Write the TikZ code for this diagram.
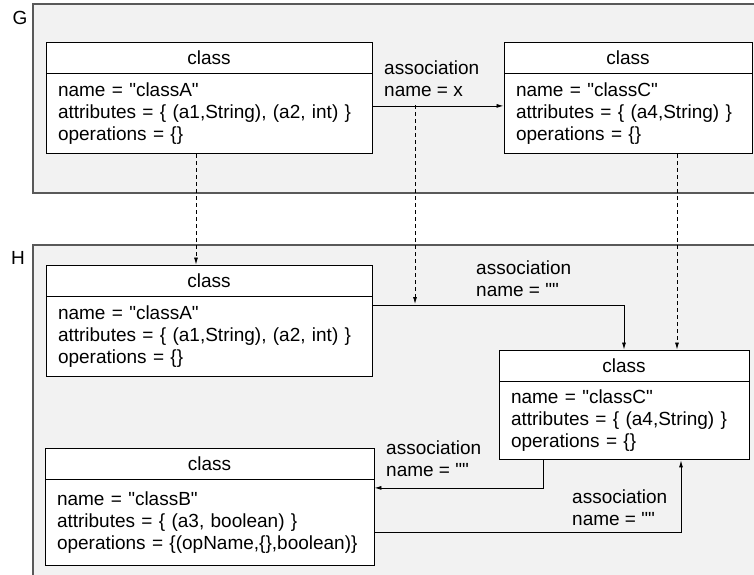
\documentclass[tikz,border=0pt]{standalone}
\usepackage{fontspec}
\setmainfont{Liberation Sans}
\usepackage{tikz}
\usetikzlibrary{arrows.meta,positioning}
\definecolor{framegray}{RGB}{242,242,242}
\newcommand{\q}{\textquotedbl}

\begin{document}
\begin{tikzpicture}[x=1pt, y=1pt,
    every node/.style={font=\fontsize{19}{22}\selectfont},
    frame/.style={draw=black!65, line width=1.1pt, fill=framegray},
    head/.style={rectangle, draw, fill=white, line width=0.9pt, minimum height=31pt, inner sep=0pt},
    body/.style={rectangle, draw, fill=white, line width=0.9pt, inner xsep=12pt, inner ysep=0pt, align=left},
    label/.style={anchor=west, align=left, inner sep=0pt},
    arrow/.style={-{Latex[length=7pt,width=4pt]}, line width=0.8pt},
    mapping/.style={arrow, dash pattern=on 4pt off 3pt}
]
    \useasboundingbox (0,0) rectangle (754,-574);

    % graph G
    \draw[frame] (33,-4) rectangle (760,-193);
    \node (labelG) at (20,-18) {G};
    \node[head, minimum width=326pt] (gA) at (209,-57.5) {class};
    \node[body, below=0pt of gA, text width=302pt, minimum height=80pt] (gAbody)
        {name = \q classA\q\\attributes = \{ (a1,String), (a2, int) \}\\operations = \{\}};
    \node[head, minimum width=248pt] (gC) at (628,-57.5) {class};
    \node[body, below=0pt of gC, text width=224pt, minimum height=80pt] (gCbody)
        {name = \q classC\q\\attributes = \{ (a4,String) \}\\operations = \{\}};
    \draw[arrow] ([yshift=8pt]gAbody.east) -- ([yshift=8pt]gCbody.west);
    \node[label] (assocG) at (384,-78.5) {association\\name = x};
    \coordinate (gmap) at (415,-105);

    % graph H
    \draw[frame] (33,-245) rectangle (760,-580);
    \node (labelH) at (18,-258) {H};
    \node[head, minimum width=326pt] (hA) at (209,-280.5) {class};
    \node[body, below=0pt of hA, text width=302pt, minimum height=80pt] (hAbody)
        {name = \q classA\q\\attributes = \{ (a1,String), (a2, int) \}\\operations = \{\}};
    \node[head, minimum width=250pt] (hC) at (624,-365.5) {class};
    \node[body, below=0pt of hC, text width=226pt, minimum height=78pt] (hCbody)
        {name = \q classC\q\\attributes = \{ (a4,String) \}\\operations = \{\}};
    \node[head, minimum width=329pt] (hB) at (209.5,-463.5) {class};
    \node[body, below=0pt of hB, text width=305pt, minimum height=86pt] (hBbody)
        {name = \q classB\q\\attributes = \{ (a3, boolean) \}\\operations = \{(opName,\{\},boolean)\}};
    \coordinate (hmap) at (415,-304);

    \draw[arrow] ([yshift=32pt]hAbody.east) -| (hC.north);
    \node[label] (assocH1) at (476,-279) {association\\name = \q\q};
    \draw[arrow] ([xshift=-81pt]hCbody.south) |- ([yshift=35pt]hBbody.east);
    \node[label] (assocH2) at (386,-459) {association\\name = \q\q};
    \draw[arrow] ([yshift=-9pt]hBbody.east) -| ([xshift=57pt]hCbody.south);
    \node[label] (assocH3) at (572,-508) {association\\name = \q\q};

    % mappings G -> H
    \draw[mapping] ([xshift=-13pt]gAbody.south) -- ([xshift=-13pt]hA.north);
    \draw[mapping] (gmap) -- (hmap);
    \draw[mapping] ([xshift=49pt]gCbody.south) -- ([xshift=49pt]gCbody.south |- hC.north);
\end{tikzpicture}
\end{document}
